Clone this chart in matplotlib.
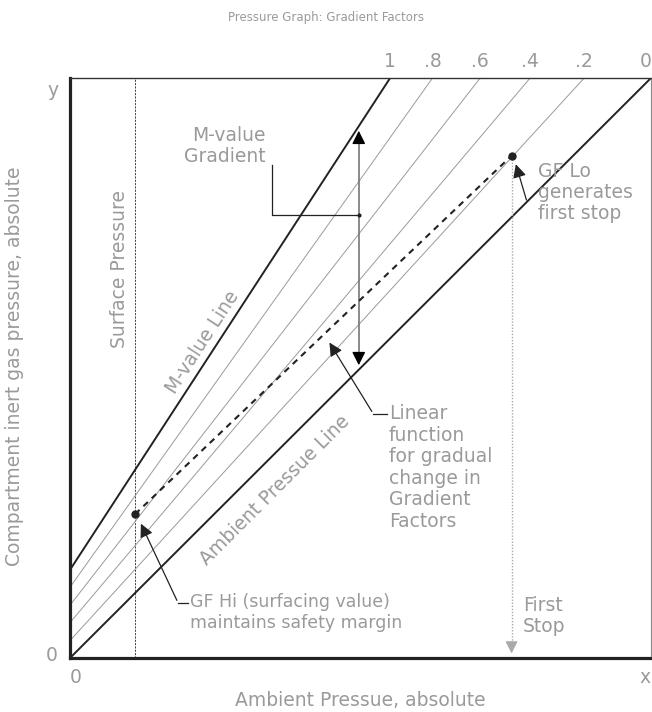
import numpy as np
import matplotlib.pyplot as plt

# gradient factor lines, from M-value line (1) to ambient line (0)
gf_labels = ['1', '.8', '.6', '.4', '.2', '0']
gf_top_x = [55.1, 62.4, 70.6, 79.2, 88.5, 100.0]   # where each line meets the top edge
gf_left_y = [15.2, 12.2, 9.1, 6.1, 3.0, 0.0]       # where each line meets the y axis
gf_label_x = [55.1, 62.4, 70.6, 79.2, 88.5, 99.0]

surface_x = 11.2
gf_hi = [11.2, 24.8]
gf_lo = [76.0, 86.6]
gradient_x = 49.7

grey = '#9a9a9a'
dark = '#222222'
fs = 13.5

fig = plt.figure(figsize=(6.52, 7.12), dpi=100)
ax = fig.add_axes([70 / 652, 54 / 712, 581 / 652, 580 / 712])
ax.set_xlim(0, 100)
ax.set_ylim(0, 100)
ax.set_xticks([])
ax.set_yticks([])
for s in ['left', 'bottom']:
    ax.spines[s].set_linewidth(2.3)
    ax.spines[s].set_color(dark)
ax.spines['top'].set_linewidth(1.0)
ax.spines['top'].set_color('#333333')
ax.spines['right'].set_linewidth(0.8)
ax.spines['right'].set_color('#888888')

# gradient factor lines
for i, lab in enumerate(gf_labels):
    thick = lab in ('1', '0')
    ax.plot([0, gf_top_x[i]], [gf_left_y[i], 100],
            color=dark if thick else grey, lw=1.4 if thick else 0.7, zorder=2)
    ax.text(gf_label_x[i], 102.8, lab, ha='center', va='center', color=grey,
            fontsize=fs, clip_on=False)

def m_value(x):
    return gf_left_y[0] + x * (100 - gf_left_y[0]) / gf_top_x[0]

# surface pressure
ax.axvline(surface_x, color=dark, lw=0.6, ls=(0, (2.5, 1.5)), zorder=1)
ax.text(8.6, 67.0, 'Surface Pressure', rotation=90, ha='center', va='center',
        color=grey, fontsize=fs)

# linear function between GF Hi and GF Lo
ax.plot([gf_hi[0], gf_lo[0]], [gf_hi[1], gf_lo[1]], color=dark, lw=1.5,
        ls=(0, (3, 2.5)), zorder=3)
ax.plot([gf_hi[0], gf_lo[0]], [gf_hi[1], gf_lo[1]], 'o', color=dark, ms=5, zorder=4)

# first stop
ax.plot([gf_lo[0], gf_lo[0]], [gf_lo[1], 3], color='#aaaaaa', lw=1.0, ls=(0, (1, 1.2)))
ax.annotate('', xy=(gf_lo[0], 0.3), xytext=(gf_lo[0], 3),
            arrowprops=dict(arrowstyle='-|>', color='#aaaaaa', lw=1, mutation_scale=18))
ax.text(78.0, 7.2, 'First\nStop', ha='left', va='center', color=grey, fontsize=fs,
        linespacing=1.15)

# M-value gradient arrow
top_y = m_value(gradient_x)
bot_y = gradient_x
ax.plot([gradient_x, gradient_x], [bot_y + 2, top_y - 2], color='#777777', lw=1.2)
ax.annotate('', xy=(gradient_x, top_y - 0.3), xytext=(gradient_x, top_y - 3),
            arrowprops=dict(arrowstyle='-|>', color='black', lw=1, mutation_scale=20))
ax.annotate('', xy=(gradient_x, bot_y + 0.3), xytext=(gradient_x, bot_y + 3),
            arrowprops=dict(arrowstyle='-|>', color='black', lw=1, mutation_scale=20))
ax.plot([34.8, 34.8, gradient_x], [85.0, 76.4, 76.4], color=dark, lw=0.9)
ax.plot([gradient_x], [76.4], 'o', color=dark, ms=2)
ax.text(33.6, 88.3, 'M-value\nGradient', ha='right', va='center', color=grey,
        fontsize=fs, linespacing=1.15, multialignment='right')

# rotated line labels
ax.text(22.9, 54.5, 'M-value Line', rotation=57, rotation_mode='anchor',
        ha='center', va='center', color=grey, fontsize=fs)
ax.text(35.3, 29.0, 'Ambient Pressue Line', rotation=45, rotation_mode='anchor',
        ha='center', va='center', color=grey, fontsize=fs)

# linear function label
ax.plot([54.6, 52.2], [42.1, 42.1], color=dark, lw=0.9)
ax.annotate('', xy=(44.4, 54.8), xytext=(52.2, 42.1),
            arrowprops=dict(arrowstyle='-|>', color=dark, lw=0.9, mutation_scale=20))
ax.text(54.9, 43.8, 'Linear\nfunction\nfor gradual\nchange in\nGradient\nFactors',
        ha='left', va='top', color=grey, fontsize=fs, linespacing=1.17)

# GF Hi label
ax.plot([20.3, 18.6], [9.5, 9.5], color=dark, lw=0.9)
ax.annotate('', xy=(12.0, 23.6), xytext=(18.6, 9.5),
            arrowprops=dict(arrowstyle='-|>', color=dark, lw=0.9, mutation_scale=20))
ax.text(20.7, 11.2, 'GF Hi (surfacing value)\nmaintains safety margin', ha='left',
        va='top', color=grey, fontsize=12.5, linespacing=1.2)

# GF Lo label
ax.annotate('', xy=(76.6, 85.6), xytext=(78.7, 78.5),
            arrowprops=dict(arrowstyle='-|>', color=dark, lw=0.9, mutation_scale=20))
ax.text(80.5, 85.5, 'GF Lo\ngenerates\nfirst stop', ha='left', va='top', color=grey,
        fontsize=fs, linespacing=1.12)

# axis corner labels
ax.text(-3.1, 0.5, '0', ha='center', va='center', color=grey, fontsize=fs, clip_on=False)
ax.text(0.9, -3.3, '0', ha='center', va='center', color=grey, fontsize=fs, clip_on=False)
ax.text(99.0, -3.3, 'x', ha='center', va='center', color=grey, fontsize=fs, clip_on=False)
ax.text(-2.9, 97.9, 'y', ha='center', va='center', color=grey, fontsize=fs, clip_on=False)

fig.text(0.5, 1 - 18 / 712, 'Pressure Graph: Gradient Factors', ha='center',
         va='center', color=grey, fontsize=8.5)
fig.text(360 / 652, 1 - 700 / 712, 'Ambient Pressue, absolute', ha='center',
         va='center', color=grey, fontsize=fs)
fig.text(15 / 652, 1 - 366 / 712, 'Compartment inert gas pressure, absolute',
         rotation=90, ha='center', va='center', color=grey, fontsize=fs)

fig.savefig('out.png', dpi=100)
